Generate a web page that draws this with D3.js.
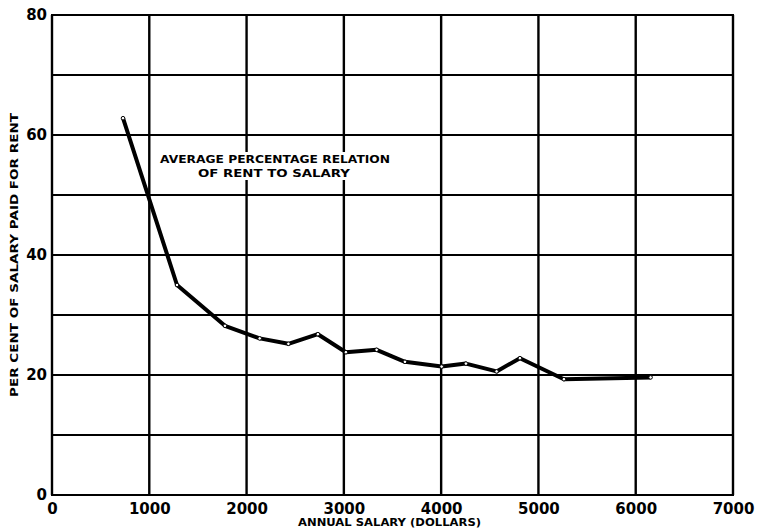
<!DOCTYPE html>
<html lang="en">
	<head>
		<meta charset="utf-8">
		<title>Rent to salary</title>
		<script src="https://d3js.org/d3.v7.min.js"></script>
		<style type="text/css">
			body { margin: 0; background: white; }
			text {
				font-family: "DejaVu Sans", sans-serif;
				font-weight: bold;
				fill: black;
			}
		</style>
	</head>
	<body>
		<svg id="chart" width="760" height="532"></svg>

		<script type="text/javascript">

			// annual salary (dollars) and per cent paid for rent
			var salary  = [730, 1285, 1778, 2135, 2430, 2733, 3021, 3337, 3628, 4005, 4255, 4570, 4810, 5262, 6153];
			var percent = [62.8, 35.0, 28.2, 26.1, 25.2, 26.8, 23.8, 24.2, 22.2, 21.4, 21.9, 20.6, 22.8, 19.3, 19.6];

			var xTicks = [0, 1000, 2000, 3000, 4000, 5000, 6000, 7000];
			var yTicks = [0, 20, 40, 60, 80];
			var yGrid  = [0, 10, 20, 30, 40, 50, 60, 70, 80];

			var svg = d3.select("#chart");

			var padL = 52, padR = 733, padT = 15, padB = 495;

			var x = d3.scaleLinear().domain([0, 7000]).range([padL, padR]);
			var y = d3.scaleLinear().domain([0, 80]).range([padB, padT]);

			// grid
			svg.append("g").selectAll("line")
				.data(yGrid)
				.enter().append("line")
				.attr("x1", padL - 1).attr("x2", padR + 1)
				.attr("y1", function(d) { return y(d); })
				.attr("y2", function(d) { return y(d); })
				.attr("stroke", "black")
				.attr("stroke-width", 2.2);

			svg.append("g").selectAll("line")
				.data(xTicks)
				.enter().append("line")
				.attr("y1", padT).attr("y2", padB)
				.attr("x1", function(d) { return x(d); })
				.attr("x2", function(d) { return x(d); })
				.attr("stroke", "black")
				.attr("stroke-width", 2.4);

			// axes (labels only)
			var xAxis = svg.append("g")
				.attr("transform", "translate(0," + padB + ")")
				.call(d3.axisBottom(x).tickValues(xTicks).tickSize(0).tickPadding(8)
					.tickFormat(d3.format("d")));
			xAxis.select(".domain").remove();
			xAxis.selectAll("text")
				.style("font-family", "'DejaVu Sans', sans-serif")
				.style("font-weight", "bold")
				.style("font-size", "15px");

			var yAxis = svg.append("g")
				.attr("transform", "translate(" + padL + ",0)")
				.call(d3.axisLeft(y).tickValues(yTicks).tickSize(0).tickPadding(5));
			yAxis.select(".domain").remove();
			yAxis.selectAll("text")
				.style("font-family", "'DejaVu Sans', sans-serif")
				.style("font-weight", "bold")
				.style("font-size", "15px");

			// data line
			var pts = salary.map(function(s, i) { return [s, percent[i]]; });

			var line = d3.line()
				.x(function(d) { return x(d[0]); })
				.y(function(d) { return y(d[1]); });

			svg.append("path")
				.datum(pts)
				.attr("d", line)
				.attr("fill", "none")
				.attr("stroke", "black")
				.attr("stroke-width", 4)
				.attr("stroke-linejoin", "round");

			svg.append("g").selectAll("circle")
				.data(pts)
				.enter().append("circle")
				.attr("cx", function(d) { return x(d[0]); })
				.attr("cy", function(d) { return y(d[1]); })
				.attr("r", 1.8)
				.attr("fill", "white")
				.attr("stroke", "black")
				.attr("stroke-width", 1);

			// annotation
			svg.append("rect")
				.attr("x", 158).attr("y", 152)
				.attr("width", 236).attr("height", 28)
				.attr("fill", "white");

			svg.append("text")
				.attr("x", 160).attr("y", 163)
				.attr("textLength", 230).attr("lengthAdjust", "spacingAndGlyphs")
				.style("font-size", "10px")
				.text("AVERAGE PERCENTAGE RELATION");

			svg.append("text")
				.attr("x", 198).attr("y", 177)
				.attr("textLength", 152).attr("lengthAdjust", "spacingAndGlyphs")
				.style("font-size", "10px")
				.text("OF RENT TO SALARY");

			// axis titles
			svg.append("text")
				.attr("x", 298).attr("y", 526)
				.attr("textLength", 183).attr("lengthAdjust", "spacingAndGlyphs")
				.style("font-size", "10px")
				.text("ANNUAL SALARY (DOLLARS)");

			svg.append("text")
				.attr("transform", "translate(18,397) rotate(-90)")
				.attr("textLength", 284).attr("lengthAdjust", "spacingAndGlyphs")
				.style("font-size", "10px")
				.text("PER CENT OF SALARY PAID FOR RENT");

		</script>
	</body>
</html>
